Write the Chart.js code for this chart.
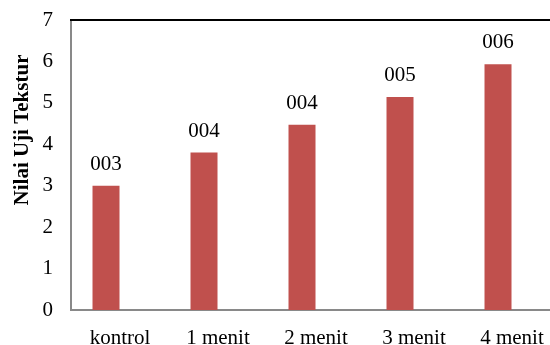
<!DOCTYPE html>
<html>
<head>
<meta charset="utf-8">
<script src="https://cdn.jsdelivr.net/npm/chart.js@4/dist/chart.umd.min.js"></script>
<style>
  html, body { margin: 0; padding: 0; background: #fff; overflow: hidden; width: 550px; height: 345px; }
  #wrap { position: relative; width: 561px; height: 345px; }
</style>
</head>
<body>
<div id="wrap"><canvas id="c"></canvas></div>
<script>
// Texture test values per treatment time
const categories = ['kontrol', '1 menit', '2 menit', '3 menit', '4 menit'];
const nilaiTekstur = [3.0, 3.8, 4.47, 5.14, 5.93];
const yTicks = [0, 1, 2, 3, 4, 5, 6, 7];
const yTitle = 'Nilai Uji Tekstur';

const SERIF = "'Liberation Serif', 'Times New Roman', serif";
Chart.defaults.font.family = SERIF;
Chart.defaults.font.size = 21;
Chart.defaults.color = '#000';

// value label: rounded value, zero padded to three digits
const fmt = v => String(Math.round(v)).padStart(3, '0');

const decorations = {
  id: 'decorations',
  afterDatasetsDraw(chart) {
    const { ctx } = chart;
    // value labels over the bars
    const meta = chart.getDatasetMeta(0);
    ctx.save();
    ctx.font = `21px ${SERIF}`;
    ctx.fillStyle = '#000';
    ctx.textAlign = 'center';
    ctx.textBaseline = 'alphabetic';
    meta.data.forEach((bar, i) => {
      ctx.fillText(fmt(nilaiTekstur[i]), bar.x, bar.y - 16);
    });
    ctx.restore();
  },
  afterDraw(chart) {
    const { ctx, chartArea } = chart;
    // dark frame line along the top of the plot
    ctx.save();
    ctx.strokeStyle = '#000';
    ctx.lineWidth = 2;
    ctx.beginPath();
    ctx.moveTo(chartArea.left - 1, chartArea.top);
    ctx.lineTo(chartArea.right, chartArea.top);
    ctx.stroke();
    // vertical axis title
    ctx.translate(23, chartArea.top + 110);
    ctx.rotate(-Math.PI / 2);
    ctx.font = `bold 21px ${SERIF}`;
    ctx.fillStyle = '#000';
    ctx.textAlign = 'center';
    ctx.textBaseline = 'middle';
    ctx.fillText(yTitle, 0, 0);
    ctx.restore();
  }
};

new Chart(document.getElementById('c'), {
  type: 'bar',
  data: {
    labels: categories,
    datasets: [
      {
        label: yTitle,
        data: nilaiTekstur,
        backgroundColor: '#C0504D',
        borderWidth: 0,
        categoryPercentage: 0.571,
        barPercentage: 0.965
      },
      {
        label: '',
        data: [],
        backgroundColor: '#C0504D',
        categoryPercentage: 0.571,
        barPercentage: 0.965
      }
    ]
  },
  options: {
    responsive: true,
    maintainAspectRatio: false,
    animation: false,
    layout: { padding: { top: 20, right: 0, bottom: 0, left: 0 } },
    plugins: {
      legend: { display: false },
      tooltip: { enabled: false }
    },
    scales: {
      x: {
        grid: { display: false, drawTicks: false },
        border: { display: true, color: '#898989', width: 2 },
        ticks: { padding: 16, maxRotation: 0, autoSkip: false },
        afterFit: s => { s.height = 35; s.paddingLeft = 0; s.paddingRight = 0; }
      },
      y: {
        min: 0,
        max: 7,
        grid: { display: false, drawTicks: false },
        border: { display: true, color: '#898989', width: 2 },
        ticks: { padding: 18, stepSize: 1 },
        afterBuildTicks: s => { s.ticks = yTicks.map(v => ({ value: v })); },
        afterFit: s => { s.width = 71; s.paddingTop = 0; s.paddingBottom = 0; }
      }
    }
  },
  plugins: [decorations]
});
</script>
</body>
</html>
